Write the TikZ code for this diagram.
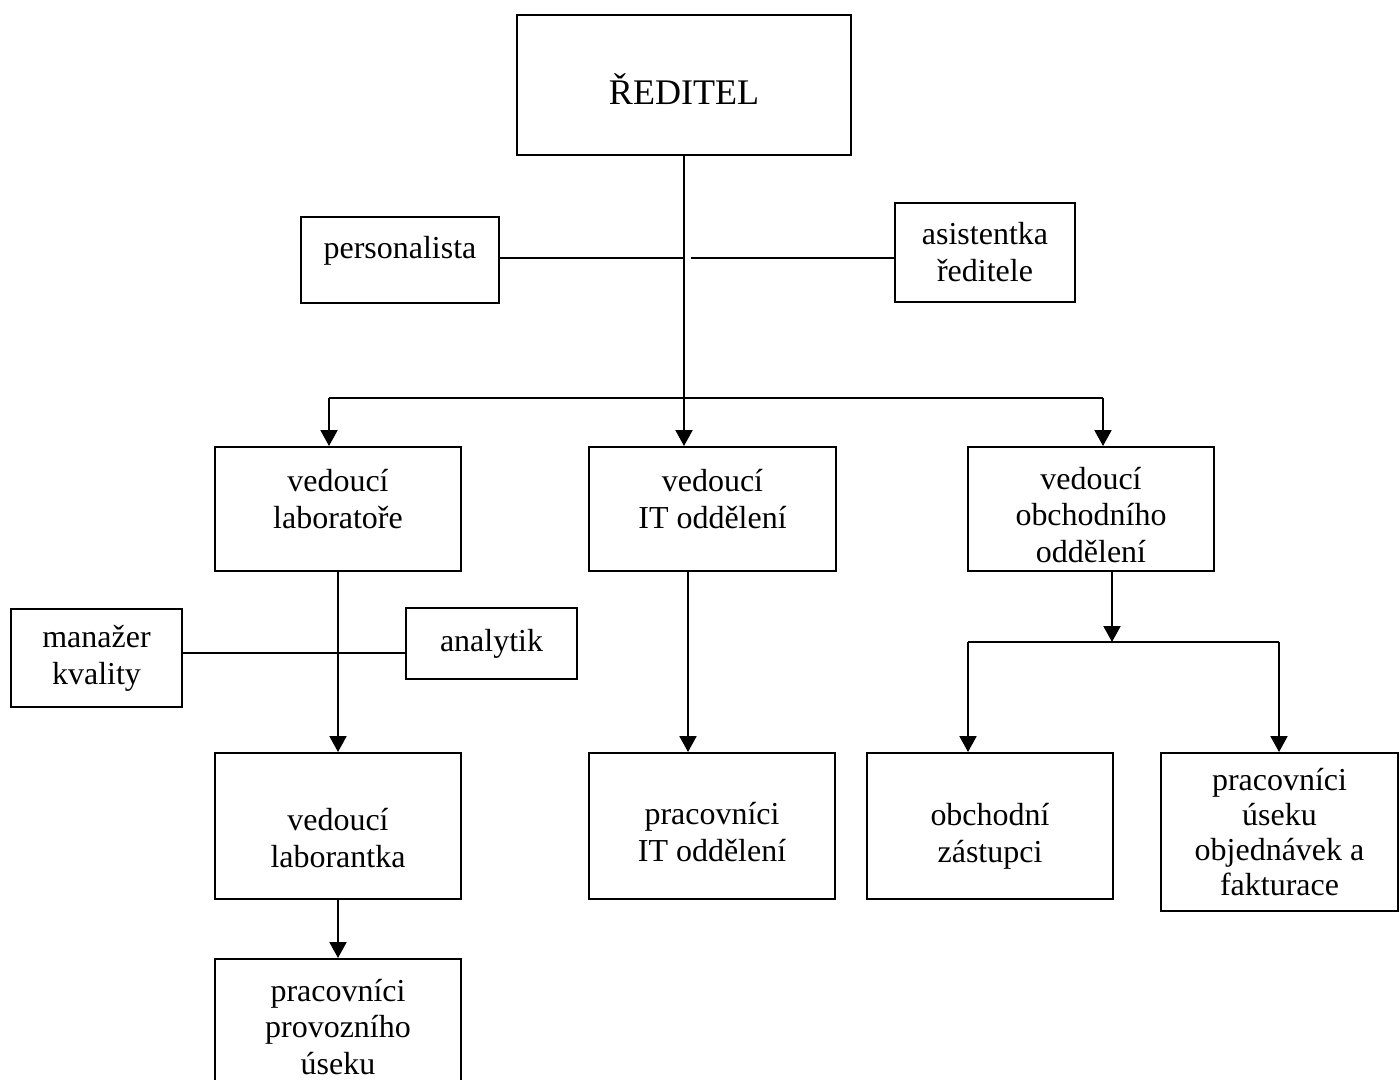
\documentclass[tikz,border=0pt]{standalone}
\usepackage{fontspec}
\setmainfont{Liberation Serif}
\usetikzlibrary{arrows.meta, positioning, calc}

\tikzset{
    tx/.style = {align=center, inner sep=0pt, font=\fontsize{18.2}{21}\selectfont},
    box/.style = {draw, line width=1.1pt, tx},
    sz/.style 2 args = {minimum width=#1*0.02cm, minimum height=#2*0.02cm},
    link/.style = {line width=1.1pt},
    arr/.style = {line width=1.4pt, -{Triangle[width=9.5pt, length=9pt]}},
}

\begin{document}
\begin{tikzpicture}[x=0.02cm, y=-0.02cm]
    \useasboundingbox (0,0) rectangle (1400,1079);

    % top
    \node[box, sz={334}{140}, label={[tx, font=\fontsize{20.5}{24}\selectfont, yshift=-0.08cm]center:ŘEDITEL}] (red) at (684,85) {};
    \node[box, sz={198}{86}, label={[tx, yshift=0.18cm]center:personalista}] (pers) at (400,260) {};
    \node[box, sz={180}{99}] (asi) at (985,252.5) {asistentka\\ředitele};

    % vedouci
    \node[box, sz={246}{124}, label={[tx, yshift=0.2cm]center:{vedoucí\\laboratoře}}] (vlab) at (338,509) {};
    \node[box, sz={247}{124}, label={[tx, yshift=0.2cm]center:{vedoucí\\IT oddělení}}] (vit) at (712.5,509) {};
    \node[box, sz={246}{124}, label={[tx, yshift=-0.12cm]center:{vedoucí\\obchodního\\oddělení}}] (vob) at (1091,509) {};

    % laborator
    \node[box, sz={171}{98}] (mkv) at (96.5,658) {manažer\\kvality};
    \node[box, sz={171}{71}] (anal) at (491.5,643.5) {analytik};
    \node[box, sz={246}{146}, label={[tx, yshift=-0.24cm]center:{vedoucí\\laborantka}}] (vlbk) at (338,826) {};
    \node[box, sz={246}{136}] (ppu) at (338,1027) {pracovníci\\provozního\\úseku};

    % IT a obchod
    \node[box, sz={246}{146}, label={[tx, yshift=-0.12cm]center:{pracovníci\\IT oddělení}}] (pit) at (712,826) {};
    \node[box, sz={246}{146}, label={[tx, yshift=-0.2cm]center:{obchodní\\zástupci}}] (obz) at (990,826) {};
    \node[box, sz={237}{158}, font=\fontsize{18.2}{20}\selectfont] (pof) at (1279.5,832) {pracovníci\\úseku\\objednávek a\\fakturace};

    % staff line
    \coordinate (hub) at (684,258);
    \coordinate (hubr) at (691,258);
    \draw[link] (pers.east |- hub) -- (hub);
    \draw[link] (hubr) -- (asi.west |- hubr);
    \draw[arr] (red.south) -- (red.south |- vit.north);

    % branch
    \coordinate (brl) at (329,398);
    \coordinate (brr) at (1103,398);
    \draw[link] (brl) -- (brr);
    \draw[arr] (brl) -- (brl |- vlab.north);
    \draw[arr] (brr) -- (brr |- vob.north);

    \coordinate (qa) at (338,653);
    \draw[link] (mkv.east |- qa) -- (anal.west |- qa);
    \draw[arr] (vlab.south) -- (vlbk.north);
    \draw[arr] (vlbk.south) -- (ppu.north);

    \coordinate (itx) at (688,0);
    \draw[arr] (vit.south -| itx) -- (pit.north -| itx);

    \coordinate (obl) at (968,642);
    \coordinate (obr) at (1279,642);
    \coordinate (obm) at (1112,642);
    \draw[arr] (vob.south -| obm) -- (obm);
    \draw[link] (obl) -- (obr);
    \draw[arr] (obl) -- (obl |- obz.north);
    \draw[arr] (obr) -- (obr |- pof.north);
\end{tikzpicture}
\end{document}
